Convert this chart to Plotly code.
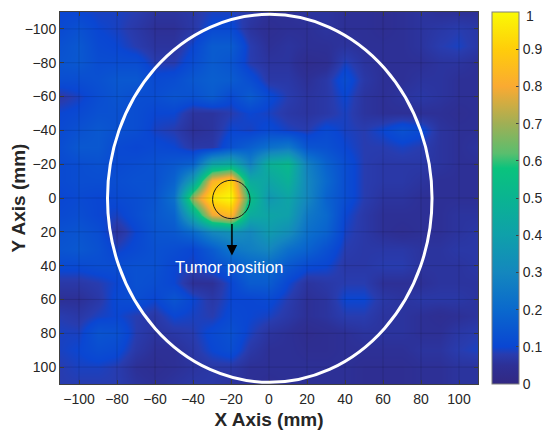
import plotly.graph_objects as go

x_mm = [-110, -100, -90, -80, -70, -60, -50, -40, -30, -20, -10, 0, 10, 20, 30, 40, 50, 60, 70, 80, 90, 100, 110]
y_mm = [-110, -100, -90, -80, -70, -60, -50, -40, -30, -20, -10, 0, 10, 20, 30, 40, 50, 60, 70, 80, 90, 100, 110]

# normalised intensity, one row per y
intensity = [
    [.10, .10, .09, .09, .08, .06, .06, .07, .09, .09, .07, .05, .05, .06, .06, .05, .05, .04, .05, .06, .05, .05, .05],
    [.11, .13, .10, .09, .07, .05, .05, .07, .11, .11, .06, .04, .05, .05, .06, .05, .05, .04, .05, .06, .07, .08, .07],
    [.13, .15, .11, .10, .08, .06, .06, .10, .16, .16, .08, .05, .06, .05, .05, .06, .05, .05, .05, .06, .08, .09, .07],
    [.14, .15, .12, .12, .12, .08, .08, .12, .16, .14, .08, .06, .06, .03, .04, .09, .06, .05, .05, .05, .06, .06, .05],
    [.12, .12, .13, .15, .15, .11, .12, .15, .17, .16, .12, .07, .07, .05, .07, .12, .07, .05, .05, .06, .06, .05, .05],
    [.07, .09, .12, .14, .12, .12, .14, .13, .16, .11, .16, .11, .08, .06, .07, .10, .06, .05, .06, .07, .06, .05, .05],
    [.10, .11, .13, .13, .12, .10, .10, .06, .06, .08, .10, .09, .07, .06, .07, .09, .06, .05, .05, .05, .05, .04, .05],
    [.11, .13, .15, .13, .12, .09, .08, .05, .06, .10, .09, .11, .09, .08, .11, .09, .08, .10, .13, .11, .06, .05, .05],
    [.12, .15, .15, .11, .10, .11, .10, .07, .07, .13, .17, .22, .25, .14, .13, .10, .08, .08, .09, .08, .06, .05, .06],
    [.11, .12, .13, .11, .12, .13, .15, .18, .42, .46, .28, .48, .52, .28, .18, .12, .08, .07, .07, .07, .06, .05, .05],
    [.11, .12, .12, .12, .13, .13, .18, .40, .82, .92, .45, .42, .48, .30, .20, .12, .08, .07, .07, .06, .05, .05, .05],
    [.10, .11, .10, .11, .12, .14, .22, .70, .95, 1.0, .55, .36, .42, .30, .18, .12, .08, .06, .06, .05, .05, .05, .05],
    [.11, .12, .10, .09, .12, .15, .18, .45, .78, .84, .45, .42, .40, .25, .20, .10, .07, .05, .05, .05, .05, .06, .06],
    [.13, .14, .12, .06, .10, .14, .15, .20, .30, .34, .30, .38, .33, .22, .18, .09, .07, .05, .04, .05, .05, .06, .07],
    [.14, .15, .13, .09, .11, .13, .12, .10, .16, .24, .27, .30, .22, .18, .13, .08, .07, .07, .07, .06, .06, .07, .07],
    [.11, .11, .12, .12, .13, .13, .10, .09, .12, .15, .19, .20, .15, .11, .10, .07, .07, .08, .08, .06, .06, .06, .07],
    [.07, .07, .08, .10, .13, .12, .10, .05, .05, .10, .16, .16, .10, .06, .07, .08, .08, .05, .05, .05, .06, .06, .06],
    [.05, .05, .07, .11, .12, .10, .14, .10, .07, .10, .10, .11, .08, .05, .06, .10, .10, .07, .06, .07, .07, .07, .06],
    [.08, .07, .09, .10, .08, .07, .10, .09, .08, .11, .10, .09, .07, .05, .06, .08, .08, .06, .06, .05, .04, .05, .06],
    [.09, .09, .14, .13, .08, .06, .07, .08, .11, .13, .09, .06, .05, .03, .04, .05, .06, .06, .06, .05, .05, .07, .08],
    [.09, .10, .12, .11, .07, .05, .05, .07, .10, .12, .07, .05, .05, .04, .04, .05, .05, .05, .05, .06, .06, .08, .09],
    [.08, .09, .09, .08, .05, .04, .05, .06, .07, .07, .05, .05, .05, .05, .05, .05, .04, .04, .04, .05, .05, .06, .06],
    [.08, .08, .08, .08, .06, .05, .06, .07, .07, .06, .05, .04, .05, .05, .05, .05, .04, .04, .04, .05, .05, .06, .06],
]

ticks = [-100, -80, -60, -40, -20, 0, 20, 40, 60, 80, 100]
cbar_ticks = [0, 0.1, 0.2, 0.3, 0.4, 0.5, 0.6, 0.7, 0.8, 0.9]
cbar_labels = ["0", "0.1", "0.2", "0.3", "0.4", "0.5", "0.6", "0.7", "0.8", "0.9"]

colors = [
    [0.0, "rgb(50,40,130)"],
    [0.05, "rgb(45,48,150)"],
    [0.08, "rgb(40,60,175)"],
    [0.1, "rgb(10,70,210)"],
    [0.2, "rgb(10,105,205)"],
    [0.3, "rgb(20,135,190)"],
    [0.4, "rgb(15,160,170)"],
    [0.5, "rgb(10,180,145)"],
    [0.58, "rgb(10,195,125)"],
    [0.62, "rgb(90,190,110)"],
    [0.7, "rgb(160,175,85)"],
    [0.8, "rgb(250,170,50)"],
    [0.9, "rgb(255,205,10)"],
    [1.0, "rgb(250,250,5)"],
]

AXIS_COLOR = "#404040"
FONT = "Liberation Sans"

fig = go.Figure()
fig.add_trace(go.Heatmap(
    x=x_mm, y=y_mm, z=intensity,
    zmin=0, zmax=1,
    zsmooth="best",
    colorscale=colors,
    hoverinfo="skip",
    colorbar=dict(
        x=1.0335, xanchor="left",
        thickness=27, thicknessmode="pixels",
        y=1, yanchor="top", len=1, lenmode="fraction",
        outlinecolor="#7f7f7f", outlinewidth=1,
        tickmode="array", tickvals=cbar_ticks, ticktext=cbar_labels,
        ticks="inside", ticklen=3, tickcolor=AXIS_COLOR, tickwidth=1,
        tickfont=dict(family=FONT, size=14, color="#262626"),
        xpad=0, ypad=0,
    ),
))

# the top colorbar label gets dropped so close to the page edge, put it in by hand
fig.add_annotation(x=1.1125, y=1, xref="paper", yref="paper", xanchor="left", yanchor="middle",
                   text="1", showarrow=False, borderpad=0, yshift=-4,
                   font=dict(family=FONT, size=14, color="#262626"))

# faint grid on top of the map
for t in ticks:
    fig.add_shape(type="line", x0=t, x1=t, y0=-110, y1=110, layer="above",
                  line=dict(color="rgba(0,0,0,0.13)", width=1))
    fig.add_shape(type="line", x0=-110, x1=110, y0=t, y1=t, layer="above",
                  line=dict(color="rgba(0,0,0,0.13)", width=1))

# phantom outline and tumour marker
fig.add_shape(type="circle", x0=-85, x1=85.8, y0=-108.6, y1=109, layer="above",
              line=dict(color="white", width=3))
fig.add_shape(type="circle", x0=-29.7, x1=-10, y0=-10.5, y1=12.2, layer="above",
              line=dict(color="#1a1a1a", width=1))

fig.add_annotation(x=-19.5, y=34, ax=-19.5, ay=14.5, xref="x", yref="y", axref="x", ayref="y",
                   text="", showarrow=True, arrowhead=2, arrowsize=1.4, arrowwidth=1.5,
                   arrowcolor="black")
fig.add_annotation(x=-21, y=41, xref="x", yref="y", text="Tumor position", showarrow=False,
                   font=dict(family=FONT, size=16.5, color="white"))

axis_style = dict(
    tickmode="array", tickvals=ticks,
    ticks="inside", ticklen=4, tickcolor=AXIS_COLOR, tickwidth=1,
    showline=True, linecolor=AXIS_COLOR, linewidth=1, mirror="ticks",
    showgrid=False, zeroline=False,
    tickfont=dict(family=FONT, size=14, color="#262626"),
)
fig.update_xaxes(range=[-110, 110], ticklabelstandoff=2,
                 title=dict(text="<b>X Axis (mm)</b>", standoff=6,
                            font=dict(family=FONT, size=19, color="#262626")),
                 **axis_style)
fig.update_yaxes(range=[110, -110],
                 title=dict(text="<b>Y Axis (mm)</b>", standoff=8,
                            font=dict(family=FONT, size=19, color="#262626")),
                 **axis_style)

# the page adds an 8 px body margin, so the figure is 16 px smaller than the window
fig.update_layout(
    width=534, height=422,
    margin=dict(l=52, r=64, t=4, b=46, autoexpand=False),
    paper_bgcolor="white", plot_bgcolor="white",
    font=dict(family=FONT),
)

fig.write_html("out.html")
